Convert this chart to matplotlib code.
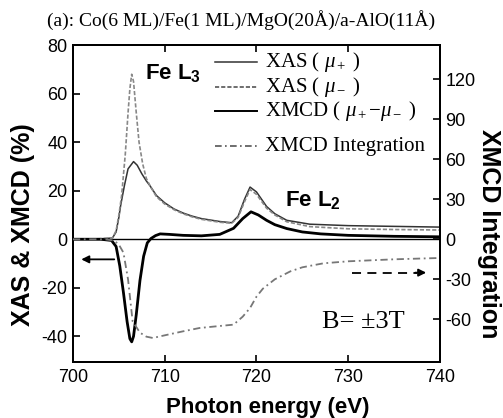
import numpy as np
import matplotlib
matplotlib.use('Agg')
import matplotlib.pyplot as plt

plt.rcParams['font.family'] = ['Liberation Sans', 'DejaVu Sans']
plt.rcParams['axes.unicode_minus'] = False
plt.rcParams['mathtext.fontset'] = 'custom'
plt.rcParams['mathtext.rm'] = 'Liberation Serif'
plt.rcParams['mathtext.it'] = 'Liberation Serif:italic'
plt.rcParams['mathtext.bf'] = 'Liberation Sans:bold'

# XAS mu+ (solid)
e_plus = [700, 703, 704.3, 704.7, 705, 705.2, 705.6, 706, 706.6, 707, 707.5, 708, 708.4, 709.1, 710,
          711, 712, 713, 714, 716, 717.3, 718, 718.7, 719.3, 720, 721.1, 722, 723.3, 725.8, 730, 735, 740]
mu_plus = [0, 0.2, 0.5, 3, 9, 14, 22, 29, 32, 30.5, 27, 24, 22, 18, 15,
           12.5, 10.8, 9.5, 8.5, 7.3, 6.8, 9.5, 16.5, 21.5, 19.5, 13.5, 10.5, 7.8, 6.2, 5.6, 5.3, 5.0]

# XAS mu- (grey dashed)
e_minus = [700, 703, 704.3, 704.7, 705, 705.3, 705.7, 706, 706.2, 706.4, 706.6, 706.9, 707.2, 707.6, 708,
           708.4, 709.1, 710, 711, 712, 713, 714, 716, 717.3, 718, 718.7, 719.3, 720, 721.1, 722,
           723.3, 725.8, 730, 735, 740]
mu_minus = [0, 0.2, 0.5, 3.5, 10, 18, 35, 52, 62, 68, 65, 52, 40, 31, 25,
            22, 17.5, 14.5, 12.2, 10.5, 9.2, 8.2, 7, 6.6, 9, 15.5, 20.5, 18.5, 12.8, 10,
            7.2, 5.2, 4.3, 4.0, 3.8]

# XMCD (thick solid)
e_xmcd = [700, 703, 704.2, 704.7, 705.1, 705.5, 705.9, 706.2, 706.4, 706.6, 706.9, 707.3, 707.7, 708.1,
          708.5, 709, 709.5, 710.5, 712, 714, 716, 717.5, 718.5, 719.4, 720.2, 721.1, 722, 723.3,
          725, 727, 730, 735, 740]
xmcd = [0, 0, -0.5, -3, -11, -22, -34, -41, -42.3, -40, -31, -17, -7, -1.5,
        0.3, 1.5, 2.2, 2.0, 1.6, 1.4, 2.0, 4.5, 8.5, 11.3, 10, 7.8, 6, 4.4,
        3, 2.2, 1.6, 1.2, 1.0]

# XMCD integration (right axis, dash-dot)
e_int = [700, 703.5, 704.5, 705, 705.5, 706, 706.5, 707.3, 708, 708.7, 710.2, 712, 713.8, 716, 717.5,
         718.5, 719.3, 720, 720.7, 722, 723.7, 725, 727.3, 730, 735, 740]
xmcd_int = [0, 0, -1, -4, -10, -30, -61.5, -70, -73, -74, -71.7, -69, -66.5, -65, -64,
            -58, -51.5, -43, -37, -30, -24, -21, -18, -16.5, -15, -14]

xticks = [700, 710, 720, 730, 740]
yticks_left = [-40, -20, 0, 20, 40, 60, 80]
yticks_right = [-60, -30, 0, 30, 60, 90, 120]

fig = plt.figure(figsize=(5.03, 4.18), dpi=100)
ax = fig.add_axes([0.1451, 0.134, 0.7296, 0.758])
ax2 = ax.twinx()

ax.axhline(0, color='black', lw=1.0, zorder=1)
ax.plot(e_plus, mu_plus, color='#333333', lw=1.1, zorder=3)
ax.plot(e_minus, mu_minus, color='#888888', lw=1.2, ls=(0, (2.5, 1.2)), zorder=3)
ax.plot(e_xmcd, xmcd, color='black', lw=2.0, zorder=4)
ax2.plot(e_int, xmcd_int, color='#777777', lw=1.3, ls=(0, (4, 2, 1, 2)), zorder=3)

ax.set_xlim(700, 740)
ax.set_ylim(-50.6, 80)
ax2.set_ylim(-92, 145.6)
ax.set_xticks(xticks)
ax.set_yticks(yticks_left)
ax2.set_yticks(yticks_right)
ax.tick_params(axis='both', direction='in', length=5, width=1.2, labelsize=13, pad=4,
               top=True, right=False)
ax.tick_params(axis='x', pad=5)
ax2.tick_params(axis='y', direction='in', length=5, width=1.2, labelsize=13, pad=4)
for a in (ax, ax2):
    for s in a.spines.values():
        s.set_linewidth(1.4)

# legend drawn by hand
leg_rows = [0.947, 0.869, 0.792, 0.681]
leg_labels = [r'XAS ( $\mu_+$ )', r'XAS ( $\mu_-$ )', r'XMCD ( $\mu_+$$-$$\mu_-$ )', 'XMCD Integration']
leg_styles = [dict(color='#333333', lw=1.1),
              dict(color='#555555', lw=1.2, ls=(0, (2.5, 1.2))),
              dict(color='black', lw=1.4),
              dict(color='#555555', lw=1.2, ls=(0, (4, 2, 1, 2)))]
for yy, lab, st in zip(leg_rows, leg_labels, leg_styles):
    ax.plot([0.387, 0.501], [yy, yy], transform=ax.transAxes, **st)
    ax.text(0.523, yy, lab, transform=ax.transAxes, va='center', ha='left',
            family='Liberation Serif', fontsize=15)

ax.text(707.9, 68.7, r'Fe L$_\mathbf{3}$', fontsize=16, fontweight='bold', va='center', ha='left')
ax.text(723.1, 16, r'Fe L$_\mathbf{2}$', fontsize=16, fontweight='bold', va='center', ha='left')
ax.text(727.1, -34, 'B= ±3T', family='Liberation Serif', fontsize=19, va='center', ha='left')

ax.annotate('', xy=(700.6, -8.3), xytext=(704.8, -8.3),
            arrowprops=dict(arrowstyle='-|>', color='black', lw=1.3, mutation_scale=11))
ax2.plot([730.4, 737.5], [-25, -25], color='black', lw=1.3, ls=(0, (5, 3.5)))
ax2.annotate('', xy=(738.8, -25), xytext=(737.0, -25),
             arrowprops=dict(arrowstyle='-|>', color='black', lw=1.3, mutation_scale=11))

fig.text(0.093, 0.952, '(a): Co(6 ML)/Fe(1 ML)/MgO(20Å)/a-AlO(11Å)', family='Liberation Serif',
         fontsize=14, va='center', ha='left')
fig.text(0.0457, 0.4617, 'XAS & XMCD (%)', rotation=90, fontsize=18, fontweight='bold',
         va='center', ha='center')
fig.text(0.972, 0.44, 'XMCD Integration', rotation=270, fontsize=18, fontweight='bold',
         va='center', ha='center')
fig.text(0.532, 0.024, 'Photon energy (eV)', fontsize=16, fontweight='bold', va='center', ha='center')

fig.savefig('out.png', dpi=100)
